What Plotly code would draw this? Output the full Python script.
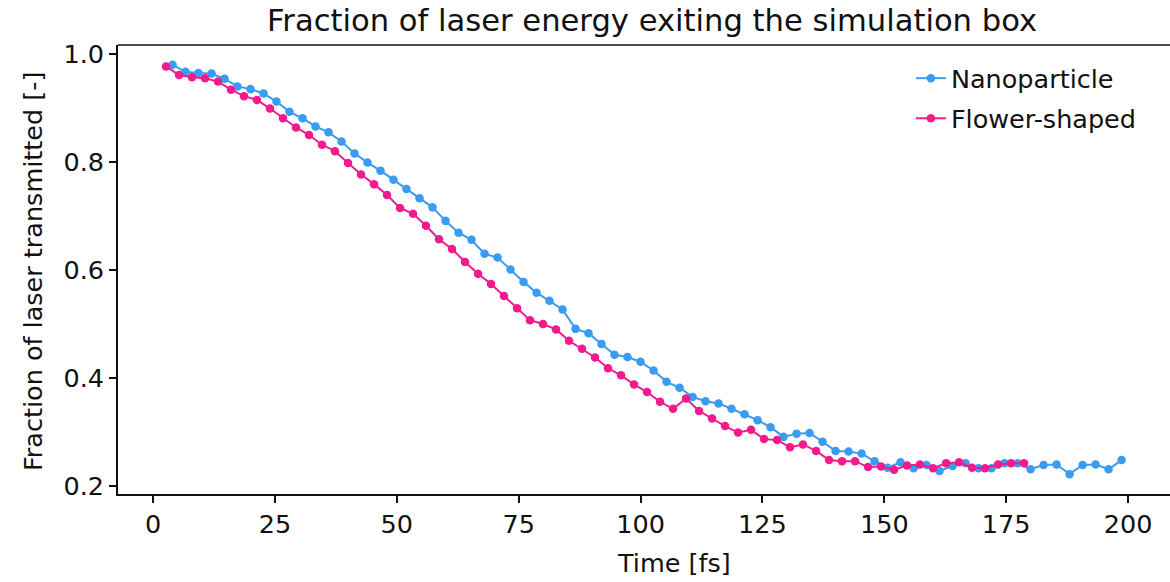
import plotly.graph_objects as go

# Simulation time samples [fs]
time_nano = [4.00, 6.67, 9.33, 12.00, 14.67, 17.33, 20.00, 22.67, 25.33, 28.00,
             30.67, 33.33, 36.00, 38.67, 41.33, 44.00, 46.67, 49.33, 52.00, 54.67,
             57.33, 60.00, 62.67, 65.33, 68.00, 70.67, 73.33, 76.00, 78.67, 81.33,
             84.00, 86.67, 89.33, 92.00, 94.67, 97.33, 100.00, 102.67, 105.33, 108.00,
             110.67, 113.33, 116.00, 118.67, 121.33, 124.00, 126.67, 129.33, 132.00, 134.67,
             137.33, 140.00, 142.67, 145.33, 148.00, 150.67, 153.33, 156.00, 158.67, 161.33,
             164.00, 166.67, 169.33, 172.00, 174.67, 177.33, 180.00, 182.67, 185.33, 188.00,
             190.67, 193.33, 196.00, 198.67]
frac_nano = [0.980, 0.967, 0.965, 0.964, 0.954, 0.940, 0.935, 0.927, 0.912, 0.893,
             0.881, 0.866, 0.855, 0.838, 0.816, 0.799, 0.784, 0.767, 0.750, 0.733,
             0.716, 0.691, 0.669, 0.656, 0.630, 0.623, 0.601, 0.578, 0.558, 0.543,
             0.527, 0.491, 0.483, 0.463, 0.443, 0.439, 0.430, 0.414, 0.393, 0.382,
             0.365, 0.357, 0.353, 0.343, 0.333, 0.322, 0.309, 0.291, 0.297, 0.298,
             0.282, 0.265, 0.264, 0.260, 0.246, 0.234, 0.244, 0.233, 0.239, 0.228,
             0.237, 0.242, 0.233, 0.233, 0.242, 0.242, 0.231, 0.239, 0.240, 0.222,
             0.239, 0.240, 0.231, 0.248]

time_flower = [2.67, 5.33, 8.00, 10.67, 13.33, 16.00, 18.67, 21.33, 24.00, 26.67,
               29.33, 32.00, 34.67, 37.33, 40.00, 42.67, 45.33, 48.00, 50.67, 53.33,
               56.00, 58.67, 61.33, 64.00, 66.67, 69.33, 72.00, 74.67, 77.33, 80.00,
               82.67, 85.33, 88.00, 90.67, 93.33, 96.00, 98.67, 101.33, 104.00, 106.67,
               109.33, 112.00, 114.67, 117.33, 120.00, 122.67, 125.33, 128.00, 130.67, 133.33,
               136.00, 138.67, 141.33, 144.00, 146.67, 149.33, 152.00, 154.67, 157.33, 160.00,
               162.67, 165.33, 168.00, 170.67, 173.33, 176.00, 178.67]
frac_flower = [0.977, 0.961, 0.957, 0.955, 0.949, 0.934, 0.922, 0.915, 0.899, 0.881,
               0.864, 0.850, 0.832, 0.820, 0.798, 0.777, 0.759, 0.739, 0.715, 0.704,
               0.682, 0.657, 0.639, 0.615, 0.593, 0.574, 0.552, 0.529, 0.507, 0.500,
               0.490, 0.469, 0.454, 0.438, 0.418, 0.405, 0.388, 0.374, 0.356, 0.343,
               0.362, 0.339, 0.325, 0.311, 0.299, 0.304, 0.287, 0.285, 0.272, 0.277,
               0.265, 0.248, 0.246, 0.246, 0.235, 0.236, 0.230, 0.238, 0.240, 0.233,
               0.242, 0.244, 0.234, 0.233, 0.240, 0.242, 0.242]

x_ticks = [0, 25, 50, 75, 100, 125, 150, 175, 200]
y_ticks = [0.2, 0.4, 0.6, 0.8, 1.0]

BLUE = "#3a9cf0"
PINK = "#f21a8d"
FONT = "DejaVu Sans"
BASE = 25.5

fig = go.Figure()
fig.add_trace(go.Scatter(
    x=time_nano, y=frac_nano, name="Nanoparticle", mode="lines+markers",
    legendgroup="nano",
    line=dict(color=BLUE, width=2), marker=dict(color=BLUE, size=8.5),
))
fig.add_trace(go.Scatter(
    x=time_flower, y=frac_flower, name="Flower-shaped", mode="lines+markers",
    legendgroup="flower",
    line=dict(color=PINK, width=2), marker=dict(color=PINK, size=8.5),
))

axis_common = dict(
    showgrid=False, zeroline=False, showline=True, linecolor="#111111", linewidth=1.6,
    ticks="outside", ticklen=7, tickwidth=1.5, tickcolor="#111111",
    tickfont=dict(family=FONT, size=BASE, color="#111111"),
)

fig.update_layout(
    width=1170, height=582,
    margin=dict(l=118, r=0, t=45, b=88),
    paper_bgcolor="white", plot_bgcolor="white",
    font=dict(family=FONT, size=BASE, color="#111111"),
    title=dict(text="Fraction of laser energy exiting the simulation box",
               font=dict(family=FONT, size=30.6, color="#111111"),
               x=652 / 1170, xref="container", xanchor="center",
               y=1 - 20 / 582, yref="container", yanchor="middle"),
    xaxis=dict(range=[-7.18, 208.6], tickvals=x_ticks, **axis_common),
    yaxis=dict(range=[0.1852, 1.0167], tickvals=y_ticks, tickformat=".1f", **axis_common),
    legend=dict(x=0.7537, y=0.9776, xanchor="left", yanchor="top",
                traceorder="grouped", tracegroupgap=4,
                bgcolor="rgba(255,255,255,0)", font=dict(family=FONT, size=BASE, color="#111111")),
    showlegend=True,
)

# top frame line
fig.add_shape(type="line", xref="paper", yref="paper", x0=0, x1=1, y0=1, y1=1,
              line=dict(color="#111111", width=1.6))

# axis labels
fig.add_annotation(text="Time [fs]", xref="paper", yref="paper",
                   x=(674 - 118) / 1052, y=(494 - 563) / 449,
                   xanchor="center", yanchor="middle", showarrow=False,
                   font=dict(family=FONT, size=BASE, color="#111111"))
fig.add_annotation(text="Fraction of laser transmitted [-]", xref="paper", yref="paper",
                   x=(33 - 118) / 1052, y=(494 - 272) / 449, textangle=-90,
                   xanchor="center", yanchor="middle", showarrow=False,
                   font=dict(family=FONT, size=BASE, color="#111111"))

fig.write_html("out.html")
